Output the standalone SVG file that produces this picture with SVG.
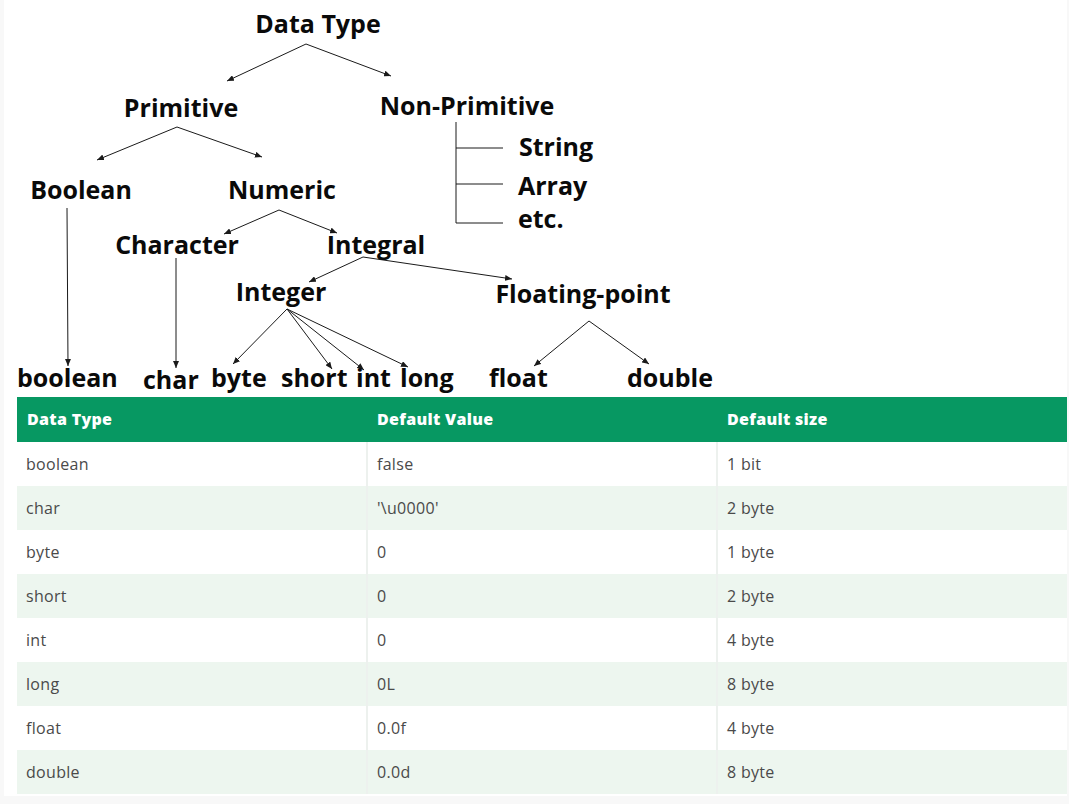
<svg xmlns="http://www.w3.org/2000/svg" width="1069" height="804" viewBox="0 0 1069 804">
<style>
.t{font-family:"Open Sans","Liberation Sans",sans-serif;font-weight:700;font-size:25px;fill:#0a0a0a;text-anchor:middle}
.b{font-family:"Open Sans","Liberation Sans",sans-serif;font-weight:700;font-size:25px;fill:#0a0a0a}
.c{stroke:#1a1a1a;stroke-width:1;fill:none}
.a{marker-end:url(#ah)}
.th{font-family:"Open Sans","Liberation Sans",sans-serif;font-weight:800;font-size:16px;letter-spacing:0.3px;fill:#ffffff}
.td{font-family:"Open Sans","Liberation Sans",sans-serif;font-weight:400;font-size:16px;letter-spacing:0.3px;fill:#4a4a4a}
.alt{fill:#edf6ef}
.wh{fill:#ffffff}
.vl{stroke:#edf1ee;stroke-width:2}
</style>
<defs>
<marker id="ah" markerUnits="userSpaceOnUse" markerWidth="7" markerHeight="6" refX="7" refY="3" orient="auto">
<path d="M0,0 L7,3 L0,6 z" fill="#1a1a1a"/>
</marker>
</defs>
<rect x="0" y="0" width="1069" height="804" fill="#f8f8f8"/>
<rect x="4" y="0" width="1063" height="796" fill="#ffffff"/>

<g id="connectors">
<line class="c a" x1="306" y1="44" x2="227" y2="81"/>
<line class="c a" x1="306" y1="44" x2="391" y2="76"/>
<line class="c a" x1="177" y1="127" x2="97" y2="160"/>
<line class="c a" x1="177" y1="127" x2="262" y2="157"/>
<line class="c a" x1="279" y1="210" x2="224" y2="234"/>
<line class="c a" x1="279" y1="210" x2="337" y2="233"/>
<line class="c a" x1="67" y1="208" x2="68" y2="366"/>
<line class="c a" x1="176" y1="258" x2="176" y2="368"/>
<line class="c a" x1="363" y1="257" x2="309" y2="282"/>
<line class="c a" x1="363" y1="257" x2="512" y2="279"/>
<line class="c a" x1="287" y1="309" x2="233" y2="364"/>
<line class="c a" x1="287" y1="309" x2="332" y2="369"/>
<line class="c a" x1="287" y1="309" x2="364" y2="370"/>
<line class="c a" x1="287" y1="309" x2="408" y2="367"/>
<line class="c a" x1="589" y1="321" x2="534" y2="366"/>
<line class="c a" x1="589" y1="321" x2="649" y2="364"/>
<path class="c" d="M456,122 V223 M456,148 H503 M456,184 H503 M456,223 H503"/>
</g>

<g id="n-datatype"><text class="t" x="318" y="33">Data Type</text></g>
<g id="n-primitive"><text class="t" x="181" y="117">Primitive</text></g>
<g id="n-nonprimitive"><text class="t" x="467" y="115">Non-Primitive</text></g>
<g id="n-string"><text class="b" x="519" y="156">String</text></g>
<g id="n-array"><text class="b" x="518" y="195">Array</text></g>
<g id="n-etc"><text class="b" x="518" y="228">etc.</text></g>
<g id="n-boolean-cat"><text class="t" x="81" y="199">Boolean</text></g>
<g id="n-numeric"><text class="t" x="282" y="199">Numeric</text></g>
<g id="n-character"><text class="t" x="177" y="254">Character</text></g>
<g id="n-integral"><text class="t" x="376" y="254">Integral</text></g>
<g id="n-integer"><text class="t" x="281" y="301">Integer</text></g>
<g id="n-floating"><text class="t" x="583" y="303">Floating-point</text></g>
<g id="n-boolean"><text class="b" x="17" y="387">boolean</text></g>
<g id="n-char"><text class="b" x="143" y="389">char</text></g>
<g id="n-byte"><text class="b" x="211" y="387">byte</text></g>
<g id="n-short"><text class="b" x="281" y="387">short</text></g>
<g id="n-int"><text class="b" x="356" y="387">int</text></g>
<g id="n-long"><text class="b" x="400" y="387">long</text></g>
<g id="n-float"><text class="b" x="489" y="387">float</text></g>
<g id="n-double"><text class="b" x="627" y="387">double</text></g>

<g id="table">
<rect x="17" y="397" width="1050" height="45" fill="#079862"/>
<rect class="wh" x="17" y="442" width="1050" height="44"/>
<rect class="alt" x="17" y="486" width="1050" height="44"/>
<rect class="wh" x="17" y="530" width="1050" height="44"/>
<rect class="alt" x="17" y="574" width="1050" height="44"/>
<rect class="wh" x="17" y="618" width="1050" height="44"/>
<rect class="alt" x="17" y="662" width="1050" height="44"/>
<rect class="wh" x="17" y="706" width="1050" height="44"/>
<rect class="alt" x="17" y="750" width="1050" height="44"/>
<path class="vl" d="M367,442 V794 M717,442 V794"/>
<text class="th" x="27" y="425">Data Type</text>
<text class="th" x="377" y="425">Default Value</text>
<text class="th" x="727" y="425">Default size</text>
<text class="td" x="26" y="470">boolean</text><text class="td" x="377" y="470">false</text><text class="td" x="727" y="470">1 bit</text>
<text class="td" x="26" y="514">char</text><text class="td" x="377" y="514">'\u0000'</text><text class="td" x="727" y="514">2 byte</text>
<text class="td" x="26" y="558">byte</text><text class="td" x="377" y="558">0</text><text class="td" x="727" y="558">1 byte</text>
<text class="td" x="26" y="602">short</text><text class="td" x="377" y="602">0</text><text class="td" x="727" y="602">2 byte</text>
<text class="td" x="26" y="646">int</text><text class="td" x="377" y="646">0</text><text class="td" x="727" y="646">4 byte</text>
<text class="td" x="26" y="690">long</text><text class="td" x="377" y="690">0L</text><text class="td" x="727" y="690">8 byte</text>
<text class="td" x="26" y="734">float</text><text class="td" x="377" y="734">0.0f</text><text class="td" x="727" y="734">4 byte</text>
<text class="td" x="26" y="778">double</text><text class="td" x="377" y="778">0.0d</text><text class="td" x="727" y="778">8 byte</text>
</g>
</svg>
